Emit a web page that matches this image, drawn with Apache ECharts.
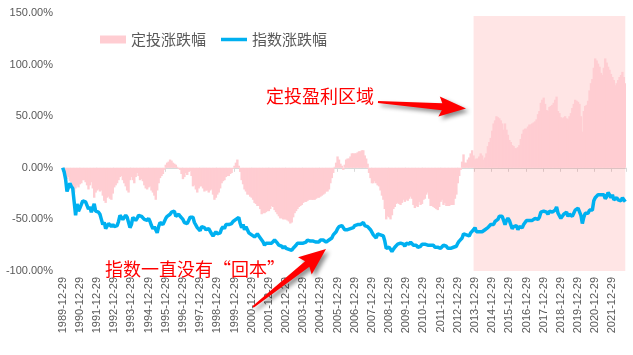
<!DOCTYPE html>
<html>
<head>
<meta charset="utf-8">
<script src="https://cdn.jsdelivr.net/npm/echarts@6/dist/echarts.min.js"></script>
<style>
  html, body { margin: 0; padding: 0; background: #fff; }
  #chart { width: 633px; height: 355px; }
</style>
</head>
<body>
<div id="chart"></div>
<script>
// 月度数据：1989-12 起，共 394 个月
const startYear = 1989
const startMonth = 12
const monthCount = 394

const categories = []
for (let i = 0; i < monthCount; i++) {
  const t = startYear * 12 + (startMonth - 1) + i
  const y = Math.floor(t / 12)
  const m = (t % 12) + 1
  categories.push(y + '-' + String(m).padStart(2, '0') + '-29')
}

// 定投涨跌幅 (%)
const dcaReturn = [0,
  -3, -7, -11, -9, -13, -14, -18, -24, -20, -17, -19, -16,
  -15, -12, -12, -14, -17, -21, -17, -14, -20, -29, -24, -22,
  -21, -23, -22, -27, -32, -34, -29, -28, -30, -31, -25, -19,
  -17, -15, -12, -9, -8, -12, -15, -18, -22, -24, -12, -9,
  -12, -15, -9, -5, -8, -12, -11, -13, -17, -20, -21, -19,
  -18, -22, -24, -27, -31, -22, -15, -10, -8, -6, -2, 3,
  5, 6, 8, 7, 5, 4, 3, 1, -1, -2, -6, -11,
  -9, -5, -7, -4, -3, -8, -18, -17, -21, -24, -20, -18,
  -18, -20, -23, -22, -22, -24, -22, -21, -26, -31, -29, -26,
  -24, -20, -15, -13, -12, -9, -8, -8, -6, -5, -1, 2,
  5, 8, 2, -4, -12, -16, -21, -23, -26, -26, -28, -29,
  -31, -34, -35, -37, -37, -40, -45, -44, -44, -43, -42, -42,
  -40, -37, -38, -41, -43, -45, -47, -49, -49, -50, -50, -50,
  -51, -52, -54, -53, -48, -44, -42, -40, -38, -37, -36, -34,
  -33, -33, -32, -31, -31, -31, -31, -31, -30, -29, -29, -28,
  -27, -26, -25, -23, -23, -21, -15, -10, -5, 1, 5, 11,
  8, 4, 2, -2, 3, 8, 9, 9, 11, 14, 14, 14,
  14, 15, 16, 16, 17, 17, 12, 9, 4, -5, -10, -15,
  -15, -13, -15, -17, -18, -22, -27, -31, -40, -50, -47, -48,
  -50, -46, -40, -38, -35, -34, -35, -36, -34, -31, -33, -31,
  -32, -30, -28, -30, -36, -39, -37, -38, -33, -36, -35, -31,
  -30, -26, -24, -30, -37, -37, -38, -39, -40, -41, -38, -33,
  -31, -36, -34, -37, -37, -37, -36, -36, -36, -30, -26, -15,
  -8, -2, 6, 13, 5, 5, 8, 10, 14, 17, 12, 8,
  9, 9, 11, 14, 12, 8, 10, 14, 21, 25, 29, 36,
  43, 46, 50, 49, 48, 46, 43, 37, 43, 37, 32, 27,
  25, 22, 21, 19, 19, 20, 22, 28, 33, 37, 38, 38,
  40, 42, 42, 43, 44, 45, 47, 52, 55, 63, 66, 68,
  62, 56, 55, 59, 60, 61, 63, 66, 69, 55, 53, 49,
  48, 49, 50, 48, 47, 50, 53, 58, 62, 66, 65, 64,
  62, 50, 35, 55, 60, 61, 65, 75, 82, 86, 97, 106,
  104, 101, 98, 92, 90, 97, 106, 102, 98, 95, 91, 88,
  85, 80, 82, 85, 88, 90, 93, 88, 82]

// 指数涨跌幅 (%)
const indexReturn = [0,
  -4, -11, -23, -24, -15, -18, -20, -33, -46, -35, -42, -39,
  -40, -32, -32, -33, -34, -40, -38, -43, -39, -35, -42, -41,
  -43, -45, -50, -55, -53, -59, -59, -54, -55, -57, -55, -57,
  -56, -56, -52, -46, -47, -50, -48, -46, -48, -49, -58, -55,
  -48, -49, -51, -49, -46, -47, -47, -47, -50, -49, -51, -49,
  -52, -56, -59, -57, -60, -63, -57, -53, -54, -55, -52, -49,
  -47, -48, -45, -43, -44, -42, -47, -48, -45, -47, -46, -50,
  -53, -52, -54, -51, -48, -47, -48, -53, -54, -58, -57, -61,
  -57, -57, -58, -60, -60, -59, -58, -64, -66, -65, -62, -64,
  -63, -63, -59, -57, -59, -55, -54, -55, -55, -54, -52, -51,
  -50, -49, -48, -54, -58, -55, -60, -57, -60, -63, -62, -65,
  -64, -67, -67, -64, -66, -67, -70, -72, -75, -73, -73, -73,
  -74, -73, -72, -70, -70, -73, -75, -75, -76, -78, -76, -78,
  -79, -79, -80, -80, -78, -77, -75, -73, -74, -73, -74, -73,
  -72, -72, -70, -70, -71, -70, -71, -72, -72, -72, -72, -70,
  -71, -70, -70, -72, -71, -70, -69, -68, -65, -65, -62, -59,
  -57, -58, -56, -57, -60, -60, -60, -59, -59, -58, -58, -56,
  -55, -55, -56, -55, -54, -53, -56, -57, -57, -57, -60, -61,
  -65, -65, -68, -64, -63, -65, -66, -66, -71, -78, -78, -77,
  -79, -81, -79, -77, -76, -74, -73, -73, -74, -74, -76, -73,
  -74, -74, -72, -72, -75, -76, -75, -77, -76, -76, -74, -74,
  -74, -73, -75, -75, -75, -75, -75, -77, -78, -77, -78, -78,
  -77, -75, -74, -76, -78, -77, -78, -77, -77, -77, -76, -73,
  -71, -70, -68, -64, -65, -65, -65, -66, -63, -63, -60, -58,
  -62, -62, -62, -63, -62, -61, -60, -60, -58, -58, -55, -55,
  -55, -52, -51, -50, -47, -48, -47, -51, -55, -51, -49, -51,
  -55, -59, -57, -57, -56, -60, -57, -57, -58, -55, -53, -51,
  -51, -51, -51, -51, -50, -49, -49, -50, -48, -43, -42, -42,
  -41, -43, -45, -42, -43, -43, -42, -41, -38, -44, -43, -49,
  -47, -45, -46, -43, -47, -45, -45, -47, -44, -41, -40, -39,
  -40, -46, -54, -48, -44, -43, -44, -41, -40, -41, -32, -29,
  -29, -26, -25, -26, -26, -26, -30, -28, -24, -26, -29, -26,
  -31, -32, -29, -31, -30, -32, -29, -28, -33]

const yTicks = [-100, -50, 0, 50, 100, 150]
const profitStart = '2013-11-29'

// 箭头多边形（注释用）
function arrowPoints(x0, y0, x1, y1, tailW, shaftW, headW, headL) {
  const dx = x1 - x0, dy = y1 - y0
  const L = Math.hypot(dx, dy)
  const ux = dx / L, uy = dy / L
  const px = -uy, py = ux
  const local = [
    [0, -tailW], [L - headL, -shaftW], [L - headL - 3, -headW], [L, 0],
    [L - headL - 3, headW], [L - headL, shaftW], [0, tailW]
  ]
  return local.map(([a, b]) => [x0 + ux * a + px * b, y0 + uy * a + py * b])
}

const arrowStyle = {
  fill: '#FF0000',
  shadowBlur: 4,
  shadowOffsetX: 3,
  shadowOffsetY: 3,
  shadowColor: 'rgba(0,0,0,0.45)'
}

const chart = echarts.init(document.getElementById('chart'))

const isYearTick = (idx, val) => val.endsWith('-12-29')

const option = {
  animation: false,
  grid: { left: 62, right: 7, top: 13, bottom: 84 },
  legend: {
    data: [
      { name: '定投涨跌幅', icon: 'rect' },
      { name: '指数涨跌幅', icon: 'path://M0,0h26v3.5h-26z' }
    ],
    left: 95,
    top: 27,
    itemWidth: 26,
    itemHeight: 8,
    itemGap: 15,
    textStyle: { color: '#595959', fontSize: 15, fontFamily: '"Noto Sans CJK SC"' }
  },
  xAxis: [
    {
      type: 'category',
      data: categories,
      axisLine: { show: false, onZero: false },
      axisTick: { show: false },
      axisLabel: {
        interval: isYearTick,
        rotate: 90,
        margin: 6,
        color: '#595959',
        fontSize: 11,
        fontFamily: 'Liberation Sans'
      }
    },
    {
      type: 'category',
      data: categories,
      position: 'bottom',
      axisLine: { show: true, onZero: true, onZeroAxisIndex: 0, lineStyle: { color: '#D9D9D9', width: 1 } },
      axisTick: { show: true, interval: isYearTick, length: 4, lineStyle: { color: '#D9D9D9' } },
      axisLabel: { show: false }
    }
  ],
  yAxis: {
    type: 'value',
    min: yTicks[0],
    max: yTicks[yTicks.length - 1],
    interval: 50,
    axisLine: { show: false },
    axisTick: { show: false },
    splitLine: { show: false },
    axisLabel: {
      margin: 9,
      color: '#595959',
      fontSize: 11,
      fontFamily: 'Liberation Sans',
      formatter: v => v.toFixed(2) + '%'
    }
  },
  series: [
    {
      name: '定投涨跌幅',
      type: 'bar',
      data: dcaReturn,
      barWidth: 2.4,
      itemStyle: { color: '#FFCDD2' },
      z: 1
    },
    {
      name: '指数涨跌幅',
      type: 'line',
      data: indexReturn,
      symbol: 'none',
      lineStyle: { color: '#00B0F0', width: 3.5 },
      itemStyle: { color: '#00B0F0' },
      z: 3
    },
    {
      name: 'profitArea',
      type: 'line',
      data: [],
      clip: false,
      z: 10,
      markArea: {
        silent: true,
        itemStyle: { color: 'rgba(255,0,0,0.1)' },
        data: [[
          { xAxis: profitStart, yAxis: 147 },
          { xAxis: categories[categories.length - 1], yAxis: -104 }
        ]]
      }
    }
  ],
  graphic: [
    {
      type: 'text',
      left: 266, top: 87,
      style: { text: '定投盈利区域', fill: '#FF0000', font: '18px "Noto Sans CJK SC"' },
      z: 20
    },
    {
      type: 'text',
      left: 105, top: 260,
      style: { text: '指数一直没有“回本”', fill: '#FF0000', font: '18px "Noto Sans CJK SC"' },
      z: 20
    },
    {
      type: 'polygon',
      shape: { points: arrowPoints(378, 102, 466, 108.5, 1, 3.5, 10, 24) },
      style: arrowStyle,
      z: 20
    },
    {
      type: 'polygon',
      shape: { points: arrowPoints(253, 307, 326, 249, 1, 3.5, 11, 24) },
      style: arrowStyle,
      z: 20
    }
  ]
}

chart.setOption(option)
</script>
</body>
</html>
